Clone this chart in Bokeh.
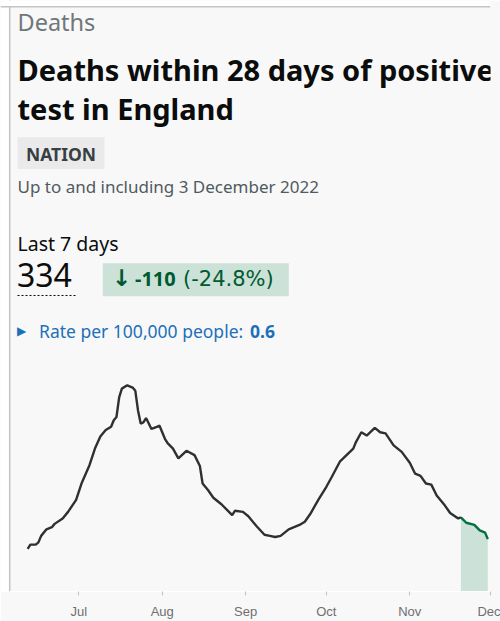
import pandas as pd
from bokeh.plotting import figure
from bokeh.models import (Range1d, Label, BoxAnnotation, Span, FixedTicker,
                          DatetimeTickFormatter, ColumnDataSource)
from bokeh.embed import file_html
from bokeh.resources import INLINE

# ---------------- data ----------------
dates = ["2022-06-12", "2022-06-13", "2022-06-15", "2022-06-16", "2022-06-17", "2022-06-19",
         "2022-06-21", "2022-06-22", "2022-06-25", "2022-06-27", "2022-06-30", "2022-07-02",
         "2022-07-05", "2022-07-07", "2022-07-09", "2022-07-11", "2022-07-13", "2022-07-14",
         "2022-07-15", "2022-07-16", "2022-07-17", "2022-07-19", "2022-07-21", "2022-07-22",
         "2022-07-23", "2022-07-24", "2022-07-25", "2022-07-26", "2022-07-28", "2022-07-30",
         "2022-07-31", "2022-08-02", "2022-08-03", "2022-08-05", "2022-08-07", "2022-08-10",
         "2022-08-13", "2022-08-15", "2022-08-16", "2022-08-18", "2022-08-20", "2022-08-23",
         "2022-08-27", "2022-08-28", "2022-08-31", "2022-09-02", "2022-09-05", "2022-09-08",
         "2022-09-10", "2022-09-12", "2022-09-14", "2022-09-17", "2022-09-21", "2022-09-23",
         "2022-09-25", "2022-09-28", "2022-10-01", "2022-10-03", "2022-10-06", "2022-10-11",
         "2022-10-12", "2022-10-14", "2022-10-16", "2022-10-19", "2022-10-21", "2022-10-23",
         "2022-10-26", "2022-10-29", "2022-11-01", "2022-11-03", "2022-11-05", "2022-11-07",
         "2022-11-09", "2022-11-11", "2022-11-14", "2022-11-16", "2022-11-19", "2022-11-20",
         "2022-11-22", "2022-11-25", "2022-11-27", "2022-11-29", "2022-11-30"]
deaths = [39, 43, 43, 45, 51, 57,
          59, 62, 67, 73, 84, 99,
          116, 131, 142, 148, 151, 157,
          160, 178, 186, 189, 187, 184,
          166, 154, 155, 159, 149, 151,
          152, 140, 136, 131, 122, 129,
          125, 115, 99, 93, 86, 80,
          70, 74, 73, 69, 60, 52,
          51, 50, 51, 57, 61, 64,
          71, 84, 96, 105, 119, 131,
          137, 146, 143, 150, 146, 145,
          134, 128, 118, 108, 106, 99,
          98, 88, 79, 72, 67, 68,
          63, 61, 56, 54, 48]
highlight_start = "2022-11-20"   # last period, shown in green

tick_dates = ["2022-07-01", "2022-08-01", "2022-09-01", "2022-10-01", "2022-11-01", "2022-12-01"]
tick_labels = ["Jul", "Aug", "Sep", "Oct", "Nov", "Dec"]

# ---------------- layout helpers ----------------
W, H = 500, 621
FRAME_W, FRAME_H = 490, 596
x_end = pd.Timestamp("2022-12-01")
x_start = x_end - pd.Timedelta(days=FRAME_W / 2.6908)
y_top = FRAME_H / 1.1

def ms(t):
    return pd.Timestamp(t).value / 1e6

xs0, xs1 = ms(x_start), ms(x_end)

def px_x(px):  # page x -> data x
    return xs0 + px / FRAME_W * (xs1 - xs0)

def px_y(py):  # page y -> data y
    return y_top - py / FRAME_H * y_top

BG = "#f8f8f8"
p = figure(width=W, height=H, output_backend="svg", toolbar_location=None,
           x_axis_type="datetime", y_axis_location=None,
           x_range=Range1d(xs0, xs1), y_range=Range1d(0, y_top),
           min_border_left=0, min_border_right=W - FRAME_W, min_border_top=0,
           min_border_bottom=H - FRAME_H)
p.background_fill_color = BG
p.border_fill_color = BG
p.outline_line_color = None
p.grid.visible = False

# ---------------- series ----------------
dt = pd.to_datetime(dates)
df = pd.DataFrame({"date": dt, "deaths": deaths})
hs = pd.Timestamp(highlight_start)
main = ColumnDataSource(df[df.date <= hs])
last = ColumnDataSource(df[df.date >= hs])

p.varea(x="date", y1=0, y2="deaths", source=last, fill_color="#cce2d8")
p.line(x="date", y="deaths", source=main, line_color="#2e3032", line_width=2.4)
p.line(x="date", y="deaths", source=last, line_color="#00703c", line_width=2.4)

# ---------------- axis ----------------
ax = p.xaxis[0]
tick_ms = [ms(t) for t in tick_dates]
ax.ticker = FixedTicker(ticks=tick_ms)
ax.formatter = DatetimeTickFormatter(days="%b", months="%b", years="%b")
ax.major_label_overrides = {t: l for t, l in zip(tick_ms, tick_labels)}
ax.axis_line_color = "white"
ax.axis_line_width = 1
ax.major_tick_in = 0
ax.major_tick_out = 4
ax.major_tick_line_color = "#c0c0c0"
ax.minor_tick_line_color = None
ax.major_label_standoff = 8
ax.major_label_text_font = "Liberation Sans"
ax.major_label_text_font_size = "13px"
ax.major_label_text_color = "#6f6f6f"

# ---------------- card border (page outside the card is white) ----------------
BORDER = "#c4c4c4"
p.add_layout(BoxAnnotation(left=xs0, right=px_x(8.5), fill_color="white", fill_alpha=1,
                           line_color=None))
p.add_layout(Span(location=px_x(9.2), dimension="height", line_color=BORDER, line_width=1.5))
p.add_layout(BoxAnnotation(bottom=px_y(6), top=y_top, fill_color="white", fill_alpha=1,
                           line_color=None))
p.add_layout(Span(location=px_y(6.4), dimension="width", line_color=BORDER, line_width=1.5))

# ---------------- header texts ----------------
F = "Noto Sans"

def lab(text, px, base, size, color, bold=False, font=F):
    # base = wanted baseline (page px); bokeh draws alphabetic text ~0.36em lower
    p.add_layout(Label(x=px_x(px), y=px_y(base - 0.36 * size), text=text, text_font=font,
                       text_font_size=f"{size}px", text_color=color,
                       text_font_style="bold" if bold else "normal",
                       text_baseline="alphabetic", text_align="left"))

lab("Deaths", 17, 30, 23.5, "#6f777b")
lab("Deaths within 28 days of positive", 17, 80, 29, "#0b0c0c", bold=True)
lab("test in England", 17, 119, 29, "#0b0c0c", bold=True)

p.add_layout(BoxAnnotation(left=px_x(17), right=px_x(104), top=px_y(138), bottom=px_y(170),
                           fill_color="#eaeaea", fill_alpha=1, line_color=None))
lab("NATION", 25.5, 160.7, 17.5, "#383f43", bold=True)
lab("Up to and including 3 December 2022", 17, 193.5, 17, "#505a5f")

lab("Last 7 days", 17, 251.7, 19.5, "#0b0c0c")
lab("334", 16.5, 288.3, 32, "#0b0c0c")
p.segment(x0=[px_x(17)], y0=[px_y(297.5)], x1=[px_x(75)], y1=[px_y(297.5)],
          line_color="#0b0c0c", line_width=1, line_dash="2 2")

p.add_layout(BoxAnnotation(left=px_x(102.3), right=px_x(288.3), top=px_y(265), bottom=px_y(298.3),
                           fill_color="#cce2d8", fill_alpha=1, line_color=None))
lab("\u2193", 111.5, 288.3, 23, "#005a30", bold=True, font="DejaVu Sans")
lab("-110", 134.5, 288.3, 20, "#005a30", bold=True)
lab("(-24.8%)", 182.5, 288.3, 21, "#005a30", font="DejaVu Sans")

lab("\u25B6", 16.5, 337.5, 12, "#1d70b8", font="DejaVu Sans")
lab("Rate per 100,000 people:", 38.5, 340, 17.5, "#1d70b8")
lab("0.6", 249.5, 340, 17.5, "#1d70b8", bold=True)

open("out.html", "w").write(file_html(p, INLINE))
